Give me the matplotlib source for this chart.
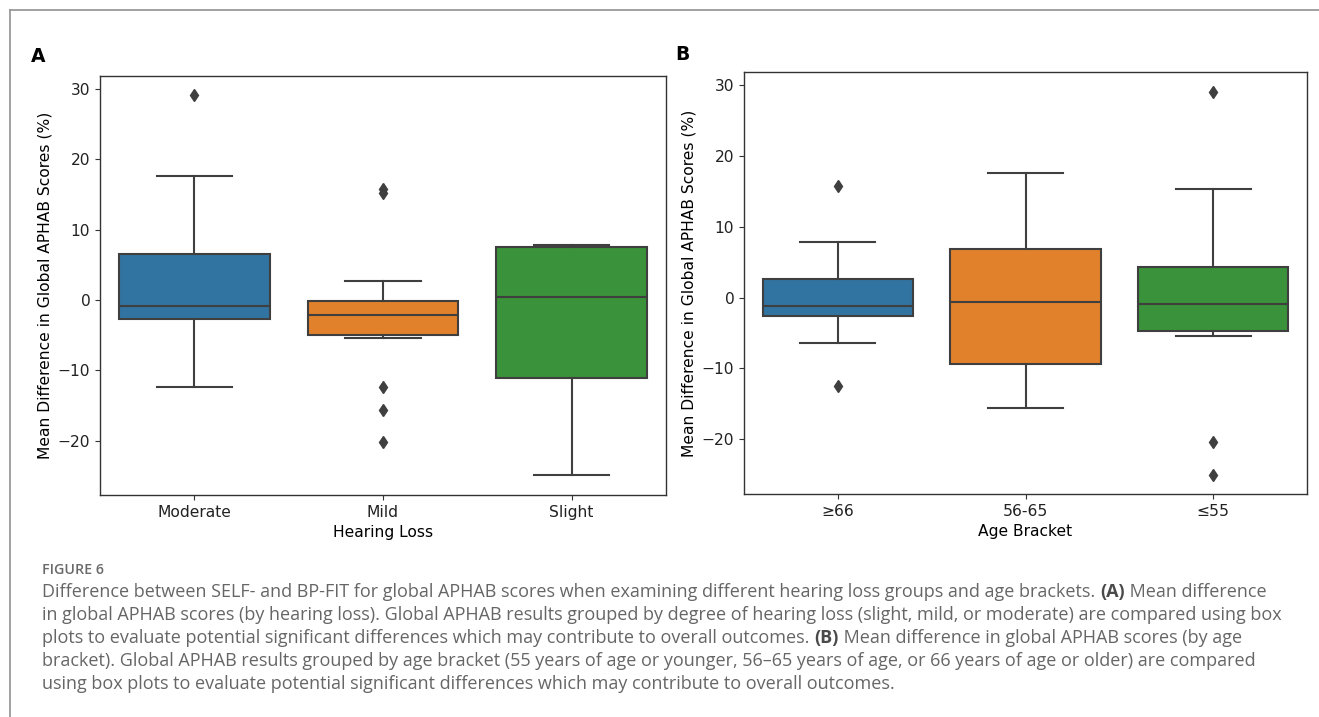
import matplotlib
matplotlib.use("Agg")
import matplotlib.pyplot as plt
from matplotlib.lines import Line2D
from matplotlib.text import Annotation

# ---- data (box summaries) ----
hearing_groups = ["Moderate", "Mild", "Slight"]
hl_whislo = [-12.3, -5.35, -24.85]
hl_q1 = [-2.65, -4.97, -11.05]
hl_med = [-0.8, -2.2, 0.4]
hl_q3 = [6.5, -0.18, 7.46]
hl_whishi = [17.6, 2.65, 7.87]
hl_fliers = [[29.1], [15.2, 15.8, -12.35, -15.6, -20.2], []]

age_groups = ["≥66", "56-65", "≤55"]
age_whislo = [-6.4, -15.57, -5.4]
age_q1 = [-2.59, -9.4, -4.67]
age_med = [-1.13, -0.62, -0.94]
age_q3 = [2.58, 6.86, 4.36]
age_whishi = [7.9, 17.53, 15.3]
age_fliers = [[15.7, -12.5], [], [29.0, -20.4, -25.0]]

BOX_COLORS = ["#3274a1", "#e1812c", "#3a923a"]
LINE = "#3f3f3f"
YLABEL = "Mean Difference in Global APHAB Scores (%)"

caption_lines = [
    [("Difference between SELF- and BP-FIT for global APHAB scores when examining different hearing loss groups and age brackets. ", False),
     ("(A)", True), (" Mean difference", False)],
    [("in global APHAB scores (by hearing loss). Global APHAB results grouped by degree of hearing loss (slight, mild, or moderate) are compared using box", False)],
    [("plots to evaluate potential significant differences which may contribute to overall outcomes. ", False),
     ("(B)", True), (" Mean difference in global APHAB scores (by age", False)],
    [("bracket). Global APHAB results grouped by age bracket (55 years of age or younger, 56\u201365 years of age, or 66 years of age or older) are compared", False)],
    [("using box plots to evaluate potential significant differences which may contribute to overall outcomes.", False)],
]

plt.rcParams["font.family"] = "DejaVu Sans"
plt.rcParams["font.size"] = 11.2

W, H = 1319, 717
fig = plt.figure(figsize=(W / 100, H / 100), dpi=100)


def px_axes(left, top, right, bottom):
    return fig.add_axes([left / W, 1 - bottom / H, (right - left) / W, (bottom - top) / H])


def draw_panel(ax, groups, whislo, q1, med, q3, whishi, fliers, xlabel):
    stats = []
    for i, g in enumerate(groups):
        stats.append({"label": g, "whislo": whislo[i], "q1": q1[i], "med": med[i],
                      "q3": q3[i], "whishi": whishi[i], "fliers": fliers[i]})
    bp = ax.bxp(stats, positions=range(len(groups)), widths=0.8, patch_artist=True,
                capwidths=0.4,
                boxprops=dict(edgecolor=LINE, linewidth=1.5),
                medianprops=dict(color=LINE, linewidth=1.5),
                whiskerprops=dict(color=LINE, linewidth=1.5),
                capprops=dict(color=LINE, linewidth=1.5),
                flierprops=dict(marker="d", markerfacecolor=LINE, markeredgecolor=LINE,
                                markersize=6, linestyle="none"))
    for patch, c in zip(bp["boxes"], BOX_COLORS):
        patch.set_facecolor(c)
    ax.set_xlim(-0.5, len(groups) - 0.5)
    ax.set_ylim(-27.7, 31.8)
    ax.set_yticks([-20, -10, 0, 10, 20, 30])
    ax.set_xlabel(xlabel)
    ax.set_ylabel(YLABEL)
    for s in ax.spines.values():
        s.set_color("#333333")
        s.set_linewidth(1.0)
    ax.tick_params(colors="#333333", labelcolor="#222222")


ax_a = px_axes(100, 76, 666, 495)
draw_panel(ax_a, hearing_groups, hl_whislo, hl_q1, hl_med, hl_q3, hl_whishi, hl_fliers, "Hearing Loss")
ax_b = px_axes(744, 72, 1307, 494)
draw_panel(ax_b, age_groups, age_whislo, age_q1, age_med, age_q3, age_whishi, age_fliers, "Age Bracket")

fig.text(31 / W, 1 - 56 / H, "A", fontsize=13.5, fontweight="bold", va="center", ha="left")
fig.text(675 / W, 1 - 55 / H, "B", fontsize=13.5, fontweight="bold", va="center", ha="left")

# outer frame of the figure panel
fig.add_artist(Line2D([9.5 / W, 1], [1 - 9.5 / H, 1 - 9.5 / H], transform=fig.transFigure,
                      color="#9a9a9a", linewidth=1.3))
fig.add_artist(Line2D([9.5 / W, 9.5 / W], [0, 1 - 9.5 / H], transform=fig.transFigure,
                      color="#9a9a9a", linewidth=1.3))

# caption, with bold (A)/(B) pieces chained after the preceding text
CAP_FONT = ["Open Sans", "DejaVu Sans"]
fig.text(42.5 / W, 1 - 570 / H, "FIGURE 6", family=CAP_FONT, fontsize=10.3, fontweight="semibold",
         color="#6a6a6a", va="center", ha="left")
line_y = [592, 615, 638, 661, 684]
for y, segs in zip(line_y, caption_lines):
    last = None
    for text, bold in segs:
        kw = dict(family=CAP_FONT, fontsize=13.0, color="#4a4a4a" if bold else "#666666",
                  fontweight="bold" if bold else "normal")
        if last is None:
            last = fig.text(42.5 / W, 1 - y / H, text, va="center", ha="left", **kw)
        else:
            last = fig.add_artist(Annotation(text, xy=(1, 0), xycoords=last,
                                             va="bottom", ha="left", **kw))

fig.savefig("out.png", dpi=100)
